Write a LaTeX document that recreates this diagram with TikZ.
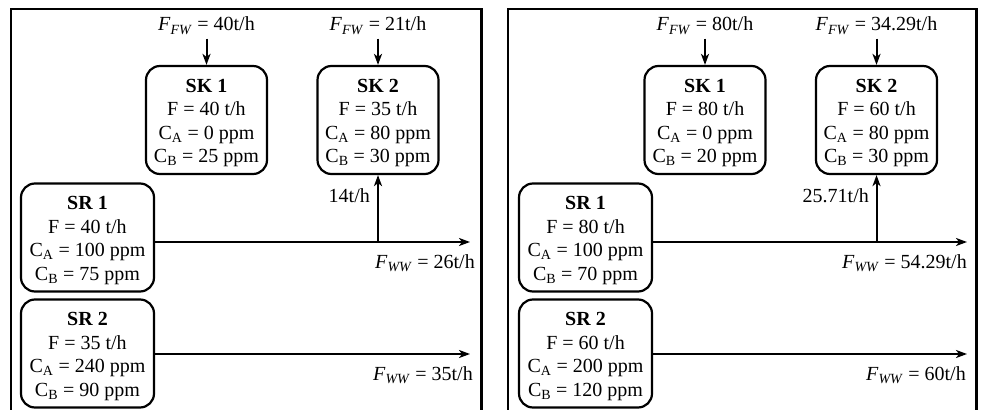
\documentclass[tikz,border=0pt]{standalone}
\usepackage{fontspec}
\setmainfont{Liberation Serif}
\usetikzlibrary{arrows.meta,calc}
\newcommand\tallstrut{\rule{0pt}{18.8pt}}
\newcommand\FFW{\textit{F}\textsubscript{\textit{FW}}}
\newcommand\FWW{\textit{F}\textsubscript{\textit{WW}}}
\tikzset{
  unit/.style={draw, line width=2.2pt, rounded corners=14pt, align=center,
    minimum height=108pt, inner sep=0pt, font=\fontsize{20}{23.5}\selectfont},
  sk/.style={unit, minimum width=121pt},
  sr/.style={unit, minimum width=133pt},
  frame/.style={line width=2.5pt},
  flow/.style={line width=2pt, -{Stealth[length=11pt,width=8pt,inset=3pt]}},
  lbl/.style={font=\fontsize{20}{24}\selectfont, inner sep=0pt},
}
\begin{document}
\begin{tikzpicture}[x=1pt,y=-1pt]
\useasboundingbox (0,0) rectangle (981,409);
% ---------- left panel ----------
\draw[frame] (11,412) -- (11,9) -- (481.7,9) -- (481.7,412);
\node[sk] (skA) at (206.5,120) {\tallstrut\textbf{SK 1}\\F = 40 t/h\\C\textsubscript{A} = 0 ppm\\C\textsubscript{B} = 25 ppm};
\node[sk] (skB) at (378,120) {\tallstrut\textbf{SK 2}\\F = 35 t/h\\C\textsubscript{A} = 80 ppm\\C\textsubscript{B} = 30 ppm};
\node[sr] (srA) at (87.5,237.5) {\tallstrut\textbf{SR 1}\\F = 40 t/h\\C\textsubscript{A} = 100 ppm\\C\textsubscript{B} = 75 ppm};
\node[sr] (srB) at (87.5,353.5) {\tallstrut\textbf{SR 2}\\F = 35 t/h\\C\textsubscript{A} = 240 ppm\\C\textsubscript{B} = 90 ppm};
\node[lbl, anchor=base] (fwA) at (206.5,31) {\FFW{} = 40t/h};
\node[lbl, anchor=base] (fwB) at (378,31) {\FFW{} = 21t/h};
\draw[flow, shorten <=4pt] (fwA.south) -- (skA.north);
\draw[flow, shorten <=4pt] (fwB.south) -- (skB.north);
\coordinate (eA) at (470,242);
\coordinate (eB) at (470,354);
\coordinate (jA) at (skB.south |- eA);
\draw[flow] (srA.east |- eA) -- (eA);
\draw[flow] (srB.east |- eB) -- (eB);
\draw[flow] (jA) -- (skB.south);
\node[lbl, anchor=base east] (rA) at (370,202) {14t/h};
\node[lbl, anchor=base east] (wA) at (475,268) {\FWW{} = 26t/h};
\node[lbl, anchor=base east] (wB) at (473,380) {\FWW{} = 35t/h};
% ---------- right panel ----------
\draw[frame] (508,412) -- (508,9) -- (976.5,9) -- (976.5,412);
\node[sk] (skC) at (705,120) {\tallstrut\textbf{SK 1}\\F = 80 t/h\\C\textsubscript{A} = 0 ppm\\C\textsubscript{B} = 20 ppm};
\node[sk] (skD) at (876.5,120) {\tallstrut\textbf{SK 2}\\F = 60 t/h\\C\textsubscript{A} = 80 ppm\\C\textsubscript{B} = 30 ppm};
\node[sr] (srC) at (585.5,237.5) {\tallstrut\textbf{SR 1}\\F = 80 t/h\\C\textsubscript{A} = 100 ppm\\C\textsubscript{B} = 70 ppm};
\node[sr] (srD) at (585.5,353.5) {\tallstrut\textbf{SR 2}\\F = 60 t/h\\C\textsubscript{A} = 200 ppm\\C\textsubscript{B} = 120 ppm};
\node[lbl, anchor=base] (fwC) at (705,31) {\FFW{} = 80t/h};
\node[lbl, anchor=base] (fwD) at (876.5,31) {\FFW{} = 34.29t/h};
\draw[flow, shorten <=4pt] (fwC.south) -- (skC.north);
\draw[flow, shorten <=4pt] (fwD.south) -- (skD.north);
\coordinate (eC) at (967,242);
\coordinate (eD) at (967,354);
\coordinate (jC) at (skD.south |- eC);
\draw[flow] (srC.east |- eC) -- (eC);
\draw[flow] (srD.east |- eD) -- (eD);
\draw[flow] (jC) -- (skD.south);
\node[lbl, anchor=base east] (rC) at (869,202) {25.71t/h};
\node[lbl, anchor=base east] (wC) at (967,268) {\FWW{} = 54.29t/h};
\node[lbl, anchor=base east] (wD) at (966,380) {\FWW{} = 60t/h};
\end{tikzpicture}
\end{document}
